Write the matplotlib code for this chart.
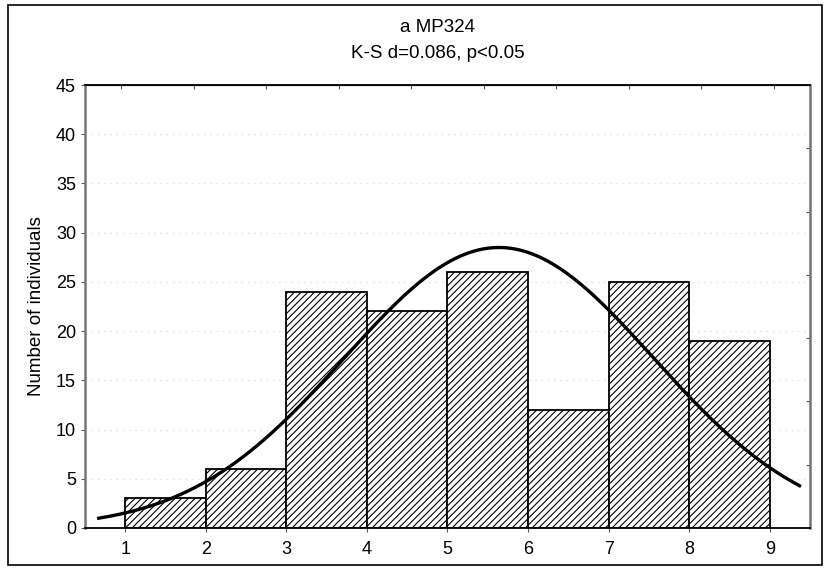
import numpy as np
import matplotlib.pyplot as plt
from matplotlib.patches import Rectangle

# histogram data (bins of width 1, from 1 to 9)
bin_edges = [1, 2, 3, 4, 5, 6, 7, 8, 9]
counts = [3, 6, 24, 22, 26, 12, 25, 19]
x_ticks = [1, 2, 3, 4, 5, 6, 7, 8, 9]
y_ticks = [0, 5, 10, 15, 20, 25, 30, 35, 40, 45]
curve_range = [0.67, 9.37]

title_1 = "a MP324"
title_2 = "K-S d=0.086, p<0.05"
ylabel = "Number of individuals"

plt.rcParams['font.family'] = ['Liberation Sans', 'DejaVu Sans']
plt.rcParams['hatch.linewidth'] = 0.8
plt.rcParams['hatch.color'] = '#4a4a4a'

W, H = 829, 570
fig = plt.figure(figsize=(W / 100, H / 100), dpi=100)
ax = fig.add_axes([85 / W, 42 / H, 725 / W, 443 / H])

# bars
lefts = np.array(bin_edges[:-1])
widths = np.diff(bin_edges)
ax.bar(lefts, counts, width=widths, align='edge', facecolor='white',
       edgecolor='black', linewidth=1.3, hatch='/////', zorder=2)

# fitted normal curve from the histogram
centers = lefts + widths / 2
n = sum(counts)
mean = np.sum(centers * np.array(counts)) / n
sd = np.sqrt(np.sum(np.array(counts) * (centers - mean) ** 2) / (n - 1))
xs = np.linspace(curve_range[0], curve_range[1], 300)
ys = n * 1.0 / (sd * np.sqrt(2 * np.pi)) * np.exp(-0.5 * ((xs - mean) / sd) ** 2)
ax.plot(xs, ys, color='black', linewidth=2.4, zorder=3)

ax.set_xlim(0.5, 9.5)
ax.set_ylim(0, 45)
ax.set_xticks(x_ticks)
ax.set_yticks(y_ticks)
ax.tick_params(axis='both', labelsize=13, length=3, direction='out', color='#555555')
ax.tick_params(axis='x', pad=6)
ax.set_ylabel(ylabel, fontsize=13.5, labelpad=8)

# two-line title, a bit left of the axes centre like the original
fig.text(438 / W, 1 - 28 / H, title_1, ha='center', va='center', fontsize=13.5)
fig.text(438 / W, 1 - 53 / H, title_2, ha='center', va='center', fontsize=13.5)

# faint dotted horizontal grid
for yv in y_ticks[1:-1]:
    ax.axhline(yv, color='#dddddd', linestyle=(0, (1, 4)), linewidth=0.9, zorder=1)

for side in ['top', 'bottom']:
    ax.spines[side].set_color('black')
    ax.spines[side].set_linewidth(1.3)
for side in ['left', 'right']:
    ax.spines[side].set_color('#777777')
    ax.spines[side].set_linewidth(1.8)

# extra tick marks on top and right axes, as in the original
top = ax.secondary_xaxis('top')
top.set_xticks(0.5 + (np.arange(10) + 0.5) * 0.9)
top.set_xticklabels([])
top.tick_params(direction='in', length=3, color='#555555')
right = ax.secondary_yaxis('right')
right.set_yticks(np.arange(1, 7) * 45 / 7)
right.set_yticklabels([])
right.tick_params(direction='in', length=3, color='#555555')

# outer frame
fig.patches.append(Rectangle((8 / W, 5 / H), 814 / W, 560 / H,
                             transform=fig.transFigure, fill=False,
                             edgecolor='black', linewidth=1.2))

fig.savefig('out.png', dpi=100)
